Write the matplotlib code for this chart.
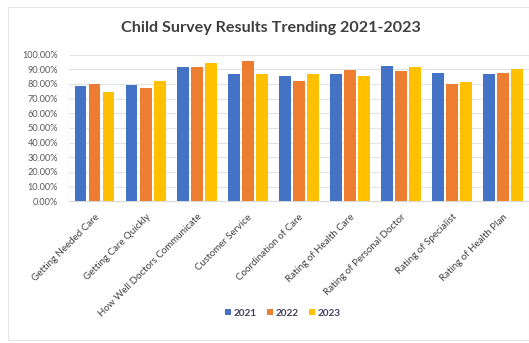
import matplotlib
matplotlib.use("Agg")
import matplotlib.pyplot as plt
import numpy as np
from matplotlib.patches import Rectangle
from matplotlib.ticker import FuncFormatter, MultipleLocator

categories = ["Getting Needed Care", "Getting Care Quickly", "How Well Doctors Communicate",
              "Customer Service", "Coordination of Care", "Rating of Health Care",
              "Rating of Personal Doctor", "Rating of Specialist", "Rating of Health Plan"]
series_names = ["2021", "2022", "2023"]
v2021 = [78.6, 79.1, 91.4, 86.6, 85.2, 86.6, 92.0, 87.3, 86.8]
v2022 = [79.6, 77.1, 91.4, 95.9, 82.0, 89.5, 88.9, 79.6, 87.7]
v2023 = [74.4, 82.0, 94.3, 86.4, 86.6, 85.2, 91.4, 81.6, 90.2]
colors = ["#4472C4", "#ED7D31", "#FFC000"]

W, H = 529, 343
fig = plt.figure(figsize=(W/100, H/100), dpi=100)
fig.patch.set_facecolor("white")

# chart frame
fig.patches.append(Rectangle((8/W, 3/H), (W-8)/W, (H-10)/H, transform=fig.transFigure,
                             fill=False, edgecolor="#e6e6e6", linewidth=0.8))

left, right = 69, 528.5
bottom_px, top_px = 201.3, 54.5
ax = fig.add_axes([left/W, (H-bottom_px)/H, (right-left)/W, (bottom_px-top_px)/H])

x = np.arange(len(categories))
bw = 0.232
offs = [-0.275, 0, 0.275]
for vals, c, o, name in zip([v2021, v2022, v2023], colors, offs, series_names):
    ax.bar(x + o, np.array(vals)/100, bw, color=c, label=name, zorder=3)

ax.set_xlim(-0.5, len(categories)-0.5)
ax.set_ylim(0, 1.0)
ax.yaxis.set_major_locator(MultipleLocator(0.1))
ax.yaxis.set_major_formatter(FuncFormatter(lambda v, p: f"{v*100:.2f}%"))
ax.grid(axis="y", color="#e3e3e3", linewidth=0.8, zorder=0)
for s in ax.spines.values():
    s.set_visible(False)
ax.spines["bottom"].set_visible(True)
ax.spines["bottom"].set_color("#d9d9d9")
ax.tick_params(axis="both", length=0)
ax.tick_params(axis="y", labelsize=6.6, labelcolor="#595959", pad=8)
ax.set_xticks(x)
ax.set_xticklabels(categories, rotation=45, ha="right", rotation_mode="anchor",
                   fontsize=7.0, color="#404040")
ax.tick_params(axis="x", pad=8)
for lab in ax.get_yticklabels() + ax.get_xticklabels():
    lab.set_family("Lato")

fig.text(271/W, 1 - 28/H, "Child Survey Results Trending 2021-2023", ha="center", va="center",
         fontsize=11.6, fontweight="bold", color="#404040", family="Lato")

leg = fig.legend(loc="center", bbox_to_anchor=(283/W, 1 - 313/H), ncol=3, frameon=False,
                 handlelength=0.6, handleheight=0.6, handletextpad=0.3,
                 columnspacing=1.0, prop={"family": "Lato", "size": 7.2, "weight": "bold"})
for t in leg.get_texts():
    t.set_color("#404060")

fig.savefig("out.png", dpi=100)
